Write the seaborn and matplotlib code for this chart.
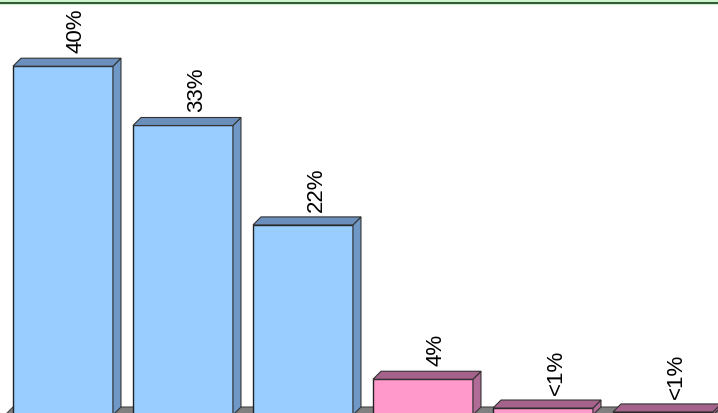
import matplotlib
matplotlib.use("Agg")
import matplotlib.pyplot as plt
from matplotlib.patches import Polygon, Rectangle
from matplotlib.lines import Line2D
import seaborn as sns

# chart values (percent shares)
categories = ["c1", "c2", "c3", "c4", "c5", "c6"]
values = [40, 33.2, 21.8, 4.1, 0.8, 0.35]
value_labels = ["40%", "33%", "22%", "4%", "<1%", "<1%"]
group = ["blue", "blue", "blue", "pink", "pink", "pink"]

front_colors = {"blue": "#99ccff", "pink": "#ff99cc"}
top_colors = {"blue": "#6b8fbd", "pink": "#a5628a"}
side_colors = {"blue": "#7098c6", "pink": "#b06b96"}

sns.set_style("white")
plt.rcParams["font.family"] = ["Liberation Sans", "DejaVu Sans"]

W, H = 718, 413
fig = plt.figure(figsize=(W / 100, H / 100), dpi=100)
ax = fig.add_axes([0, 0, 1, 1])

sns.barplot(x=categories, y=values, hue=categories,
            palette=[front_colors[g] for g in group], legend=False,
            width=0.833, edgecolor="#222222", linewidth=1.0, saturation=1,
            ax=ax, zorder=3)

# baseline sits 2 px below the bottom edge, 8.72 px per percent
ax.set_xlim(-0.525, -0.525 + W / 120)
ax.set_ylim(2 / 8.72, 415 / 8.72)
ax.set_axis_off()

# depth of the 3d effect, 8 px in each direction
x0, x1 = ax.get_xlim()
y0, y1 = ax.get_ylim()
dx = 8 * (x1 - x0) / W
dy = 8 * (y1 - y0) / H

# floor
floor = Polygon([(-0.483, 0), (x1 + 1, 0), (x1 + 1 + dx, dy), (-0.483 + dx, dy)],
                closed=True, facecolor="#808080", edgecolor="#444444",
                linewidth=0.8, zorder=1)
ax.add_patch(floor)

for bar, g, lab in zip(ax.patches[:len(values)], group, value_labels):
    bx = bar.get_x()
    bw = bar.get_width()
    bh = bar.get_height()
    top = Polygon([(bx, bh), (bx + bw, bh), (bx + bw + dx, bh + dy), (bx + dx, bh + dy)],
                  closed=True, facecolor=top_colors[g], edgecolor="#333333",
                  linewidth=0.8, zorder=3)
    side = Polygon([(bx + bw, 0), (bx + bw + dx, dy), (bx + bw + dx, bh + dy), (bx + bw, bh)],
                   closed=True, facecolor=side_colors[g], edgecolor="#333333",
                   linewidth=0.8, zorder=3)
    ax.add_patch(side)
    ax.add_patch(top)
    ax.annotate(lab, (bx + bw / 2, bh), xytext=(9.5, 9.5), textcoords="offset points",
                rotation=90, ha="center", va="bottom", fontsize=16, color="black")

# green frame line at the top
fig.add_artist(Rectangle((0, 1 - 5 / H), 1, 5 / H, transform=fig.transFigure,
                         facecolor="#ccf5cc", edgecolor="none", zorder=5))
fig.add_artist(Line2D([0, 1], [1 - 3 / H, 1 - 3 / H], transform=fig.transFigure,
                      color="#1a3a1a", linewidth=1.2, zorder=6))

fig.savefig("out.png", dpi=100)
